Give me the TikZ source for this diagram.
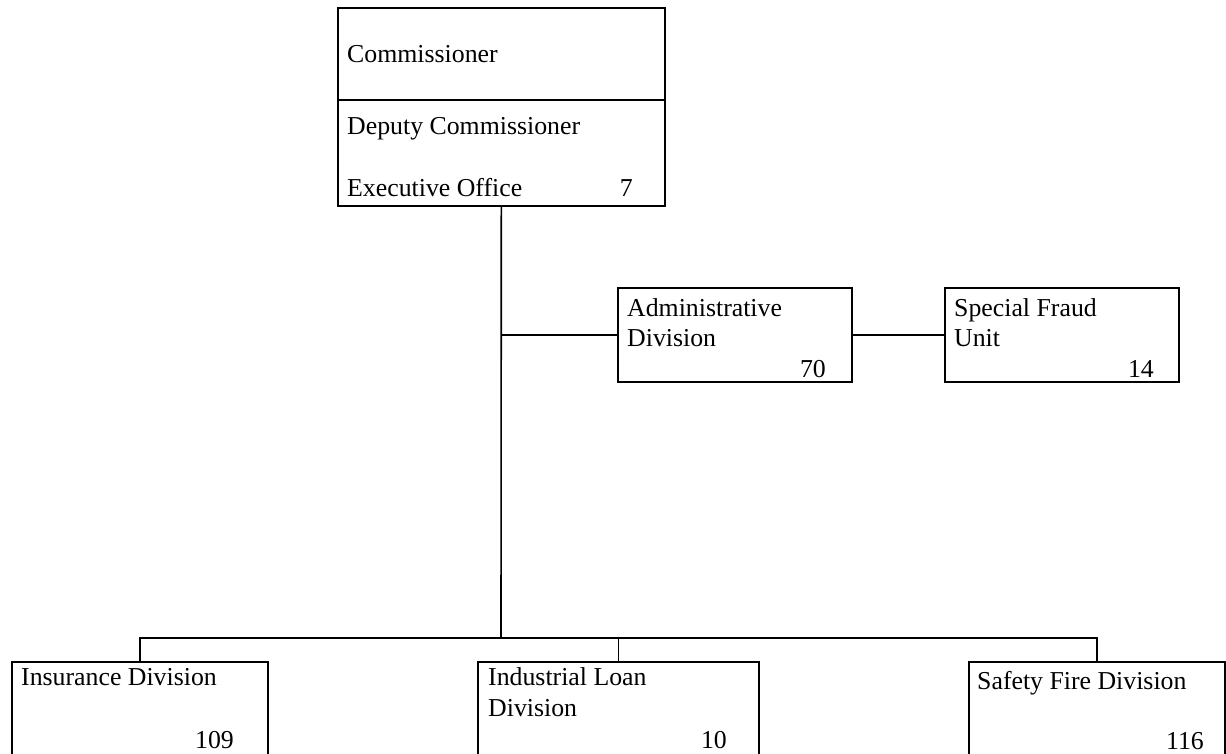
\documentclass[tikz,border=0pt]{standalone}
\usepackage{fontspec}
\setmainfont{Liberation Serif}
\begin{document}
\begin{tikzpicture}[x=1pt,y=-1pt,
  box/.style={draw,line width=1.6pt,inner sep=0pt,anchor=north west},
  conn/.style={line width=1.6pt},
  lbl/.style={anchor=base west,inner sep=0pt,font=\fontsize{25.8}{30}\selectfont},
  num/.style={anchor=base east,inner sep=0pt,font=\fontsize{25.8}{30}\selectfont}]
\useasboundingbox (0,0) rectangle (1226,754);
% boxes
\node[box,minimum width=327pt,minimum height=198pt] (comm) at (337,7) {};
\coordinate (divl) at (337,100);
\coordinate (divr) at (664,100);
\draw[line width=1.6pt] (divl) -- (divr);
\node[box,minimum width=234pt,minimum height=94pt] (admin) at (617,287) {};
\node[box,minimum width=234pt,minimum height=94pt] (fraud) at (944,287) {};
\node[box,minimum width=256pt,minimum height=94pt] (ins) at (11,661) {};
\node[box,minimum width=281pt,minimum height=94pt] (ilo) at (477,661) {};
\node[box,minimum width=256pt,minimum height=94pt] (sfd) at (968,661) {};
% texts
\node[lbl] (t1) at (347,63) {Commissioner};
\node[lbl] (t2) at (347,135) {Deputy Commissioner};
\node[lbl] (t3) at (347,197) {Executive Office};
\node[num] (n1) at (633,197) {7};
\node[lbl] (t4) at (627,316) {Administrative};
\node[lbl] (t5) at (627,346) {Division};
\node[num] (n2) at (826,377) {70};
\node[lbl] (t6) at (954,316) {Special Fraud};
\node[lbl] (t7) at (954,346) {Unit};
\node[num] (n3) at (1154,377) {14};
\node[lbl] (t8) at (21,685) {Insurance Division};
\node[num] (n4) at (234,748) {109};
\node[lbl] (t9) at (488,685) {Industrial Loan};
\node[lbl] (t10) at (488,716) {Division};
\node[num] (n5) at (727,748) {10};
\node[lbl] (t11) at (977,689) {Safety Fire Division};
\node[num] (n6) at (1204,749) {116};
% connectors
\coordinate (bus) at (501,638);
\draw[conn] (comm.south) -- (bus);
\draw[conn] (admin.west) -- (admin.west -| comm.south);
\draw[conn] (admin.east) -- (fraud.west);
\draw[conn] (ins.north) |- (bus) -| (sfd.north);
\draw[conn] (ilo.north) -- (ilo.north |- bus);
\end{tikzpicture}
\end{document}
